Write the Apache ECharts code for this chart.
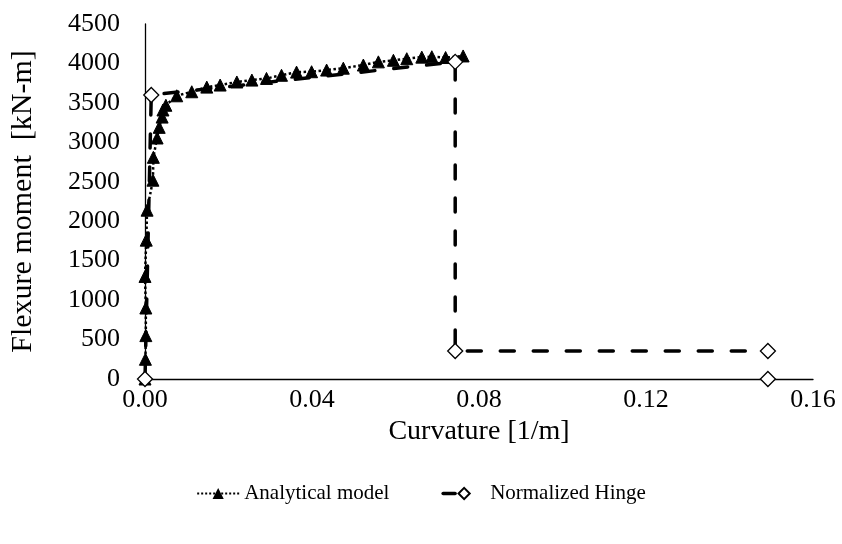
<!DOCTYPE html>
<html>
<head>
<meta charset="utf-8">
<script src="https://cdn.jsdelivr.net/npm/echarts@6/dist/echarts.min.js"></script>
<style>html,body{margin:0;padding:0;background:#fff}#c{width:842px;height:544px}</style>
</head>
<body>
<div id="c"></div>
<script>
// Analytical model (curvature [1/m], moment [kN-m])
var analyticalX = [0, 0.0001, 0.0002, 0.0002, 0.0000, 0.0003, 0.0005, 0.0019, 0.0020, 0.0029, 0.0034, 0.0041, 0.0043, 0.0050,
  0.0076, 0.0112, 0.0148, 0.0180, 0.0220, 0.0256, 0.0291, 0.0327, 0.0363, 0.0399, 0.0435, 0.0475, 0.0523, 0.0559, 0.0595, 0.0627, 0.0663, 0.0687, 0.0720, 0.0762];
var analyticalY = [0, 250, 550, 900, 1300, 1760, 2140, 2520, 2810, 3055, 3190, 3320, 3410, 3470,
  3590, 3641, 3700, 3726, 3765, 3789, 3810, 3850, 3890, 3895, 3916, 3940, 3980, 4020, 4040, 4060, 4080, 4085, 4075, 4095];
// Normalized hinge
var hingeX = [0, 0.0015, 0.0743, 0.0743, 0.1492, null, 0.1492];
var hingeY = [0, 3600, 4020, 355, 355, null, 0];
var xTicks = ['0.00', '0.04', '0.08', '0.12', '0.16'];
var seriesNames = ['Analytical model', 'Normalized Hinge'];

function pairs(xs, ys) {
  return xs.map(function (x, i) { return x === null ? [null, null] : [x, ys[i]]; });
}

var chart = echarts.init(document.getElementById('c'));
var font = 'Liberation Serif';
var tickFont = 26;
chart.setOption({
  animation: false,
  textStyle: { fontFamily: font, color: '#000' },
  grid: { left: 145, right: 29, top: 24, bottom: 165 },
  legend: {
    bottom: 35, left: 'center', itemWidth: 42, itemHeight: 14, itemGap: 52,
    textStyle: { fontFamily: font, fontSize: 21, color: '#000' },
    data: [
      { name: seriesNames[0] },
      { name: seriesNames[1], lineStyle: { type: [12, 40], width: 3.5, color: '#000' } }
    ]
  },
  xAxis: {
    type: 'value', min: 0, max: 0.16, interval: 0.04,
    name: 'Curvature [1/m]', nameLocation: 'middle', nameGap: 39,
    nameTextStyle: { fontFamily: font, fontSize: 28, color: '#000' },
    axisLine: { lineStyle: { color: '#000', width: 1.3 } },
    axisTick: { show: false },
    splitLine: { show: false },
    axisLabel: { fontFamily: font, fontSize: tickFont, color: '#000', margin: 8,
      formatter: function (v) { var i = Math.round(v / 0.04); return xTicks[i]; } }
  },
  yAxis: {
    type: 'value', min: 0, max: 4500, interval: 500,
    name: 'Flexure moment  [kN-m]', nameLocation: 'middle', nameGap: 107,
    nameTextStyle: { fontFamily: font, fontSize: 30, color: '#000' },
    axisLine: { show: true, lineStyle: { color: '#000', width: 1.3 } },
    axisTick: { show: false },
    splitLine: { show: false },
    axisLabel: { fontFamily: font, fontSize: tickFont, color: '#000', margin: 25,
      formatter: function (v) { return String(v); } }
  },
  series: [
    {
      name: seriesNames[0], type: 'line', data: pairs(analyticalX, analyticalY),
      symbol: 'triangle', symbolSize: 12, showAllSymbol: true,
      lineStyle: { color: '#000', width: 2.5, type: 'dotted' },
      itemStyle: { color: '#000', borderColor: '#000' },
      z: 3
    },
    {
      name: seriesNames[1], type: 'line', data: pairs(hingeX, hingeY), connectNulls: false,
      symbol: 'diamond', symbolSize: 15, showAllSymbol: true,
      lineStyle: { color: '#000', width: 3.5, type: [14, 19], cap: 'round' },
      itemStyle: { color: '#fff', borderColor: '#000', borderWidth: 1.3 },
      z: 4
    }
  ]
});
</script>
</body>
</html>
